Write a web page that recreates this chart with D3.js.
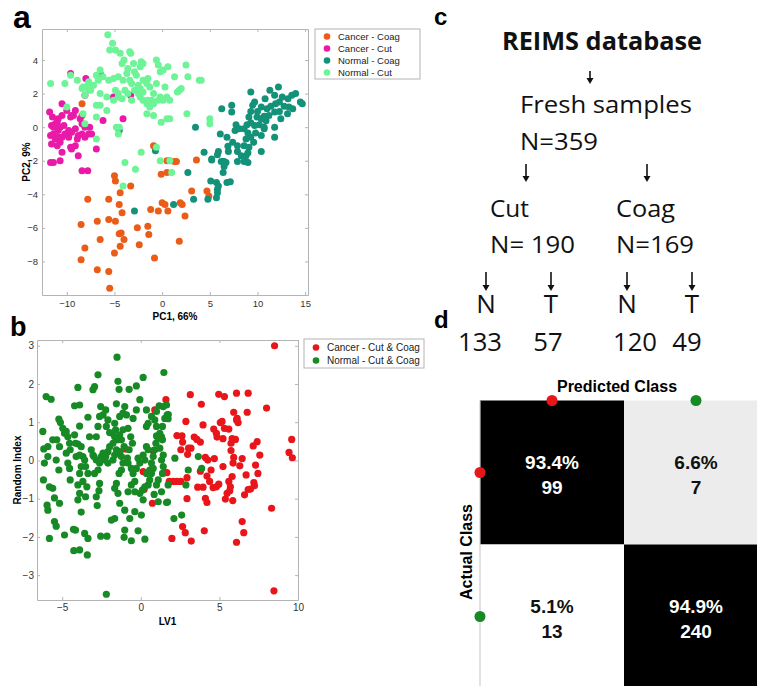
<!DOCTYPE html>
<html>
<head>
<meta charset="utf-8">
<title>REIMS classification</title>
<script src="https://d3js.org/d3.v7.min.js"></script>
<style>
  body { margin: 0; background: #fff; }
  svg { display: block; }
</style>
</head>
<body>
<svg width="757" height="686"></svg>
<script>

// ---- panel a: PCA scores (PC1, PC2) ----
var pcaLabels = ["Cancer - Coag", "Cancer - Cut", "Normal - Coag", "Normal - Cut"];
var pcaColors = ["#ea5c17", "#e91aa8", "#139279", "#6cf497"];
var pcaXTicks = [-10, -5, 0, 5, 10, 15];
var pcaYTicks = [-8, -6, -4, -2, 0, 2, 4];

var cancerCoag = [[-0.9,-1.1],[0.5,-2.0],[0.8,-2.0],[1.3,-2.05],[1.5,-2.05],[3.6,-1.95],[-0.1,-2.8],[0.5,-2.7],
  [-5.0,-2.9],[-4.9,-3.2],[-4.4,-3.9],[-3.3,-3.5],[-7.8,-4.3],[-5.6,-4.3],[-4.5,-4.6],[-4.2,-5.1],[-1.2,-4.9],
  [-0.4,-5.0],[0.6,-5.0],[0.0,-4.5],[0.3,-4.6],[1.9,-4.5],[2.1,-4.6],[2.4,-5.3],[3.1,-3.8],[4.7,-3.8],[4.9,-4.1],
  [-8.5,-5.8],[-6.8,-5.6],[-5.6,-5.5],[-4.9,-5.6],[-4.5,-6.35],[-4.3,-6.3],[-4.0,-6.7],[-4.4,-7.1],[-5.0,-7.5],
  [-6.5,-6.7],[-8.1,-7.2],[-8.5,-7.9],[-6.8,-8.5],[-5.6,-8.6],[-5.5,-9.6],[-2.6,-6.0],[-1.5,-5.9],[-1.4,-6.4],
  [-2.4,-7.0],[-0.8,-7.8],[1.8,-6.8],[-8.4,1.4],[-8.4,0.7]];

var cancerCut = [[-9.6,3.2],[-8.0,2.9],[-11.8,0.9],[-11.5,0.6],[-11.6,0.1],[-11.2,0.2],[-11.4,0.0],[-11.0,0.3],
  [-10.9,0.5],[-10.5,0.7],[-10.5,1.4],[-10.0,1.0],[-9.6,0.6],[-9.3,0.7],[-9.1,1.0],[-9.5,0.7],[-10.7,0.0],
  [-10.3,0.1],[-10.9,-0.2],[-11.4,-0.4],[-11.7,-0.5],[-11.6,-1.0],[-11.2,-0.7],[-10.9,-0.6],[-11.0,-1.1],
  [-10.7,-0.9],[-10.5,-0.6],[-10.2,-0.4],[-9.8,-0.2],[-9.5,-0.3],[-9.1,-0.1],[-8.8,-0.5],[-8.4,-0.4],[-9.8,-0.6],
  [-9.6,-1.2],[-9.5,-1.3],[-9.1,-1.1],[-8.8,-1.7],[-10.5,-1.5],[-10.7,-2.0],[-11.4,-2.1],[-11.7,-2.1],[-8.1,-0.6],
  [-7.7,-0.4],[-7.6,0.0],[-7.4,-0.4],[-8.1,0.0],[-8.4,0.2],[-8.6,0.5],[-8.9,-0.7],[-8.4,-2.6],[-7.8,-2.6],
  [-6.9,-1.3],[-6.2,0.4],[-4.1,0.5],[-5.1,1.8],[-3.3,1.9],[-8.1,1.9]];

var normalCoag = [[9.3,2.1],[11.3,2.2],[12.2,2.4],[11.8,1.9],[12.6,1.8],[13.2,1.7],[13.6,1.9],[14.0,2.0],[14.5,1.5],
  [14.7,1.4],[10.8,1.7],[9.7,1.5],[9.5,1.3],[10.4,1.2],[11.0,1.1],[11.4,1.25],[11.9,1.4],[12.3,1.5],[12.8,1.25],
  [13.3,1.2],[13.7,1.1],[11.8,0.9],[11.2,0.7],[10.7,0.65],[10.4,0.5],[9.95,0.6],[9.1,0.6],[9.3,0.26],[9.7,0.1],
  [10.2,0.14],[10.7,0.0],[11.8,0.0],[12.45,0.5],[13.15,0.8],[7.3,1.3],[7.3,0.9],[6.25,1.1],[3.5,0.0],[6.1,-0.4],
  [6.8,-0.6],[7.75,0.14],[7.65,-0.2],[8.1,-0.1],[8.6,-0.1],[8.9,0.14],[9.0,-0.34],[9.3,-0.6],[9.8,-0.34],
  [10.4,-0.5],[10.7,-0.1],[8.8,-0.7],[8.6,-1.1],[9.6,-0.9],[9.1,-1.2],[7.9,-1.1],[7.4,-0.9],[6.9,-1.13],
  [6.95,-1.45],[7.9,-1.45],[8.3,-1.7],[8.8,-1.7],[9.0,-1.53],[10.4,-1.45],[11.8,-0.6],[5.9,-1.45],[5.8,-1.65],
  [4.4,-1.5],[5.2,-1.9],[6.35,-2.05],[6.5,-2.05],[7.9,-2.05],[8.8,-2.05],[9.3,0.93],[10.0,0.93],[10.9,0.39],
  [12.3,0.93],[2.7,-2.7],[3.3,-4.3],[1.2,-4.6],[5.1,-3.2],[5.7,-3.3],[5.9,-3.5],[5.8,-3.7],[5.8,-3.9],[5.7,-4.2],
  [4.8,-4.3],[6.8,-3.3],[7.15,-3.25],[6.2,-2.05],[6.5,-2.35],[6.4,-2.7],[6.7,-2.1],[8.6,-2.05],[9.0,-2.1],
  [5.2,-1.95],[-2.9,-5.0],[-6.5,3.2],[-4.5,-0.2],[-0.7,-1.4]];

var normalCut = [[-5.7,5.5],[-5.2,5.0],[-4.9,4.6],[-5.5,4.6],[-4.4,4.4],[-3.4,4.5],[-3.3,4.4],[-4.0,4.0],[-4.2,3.8],
  [-3.6,3.5],[-3.0,3.8],[-2.3,3.6],[-2.2,3.9],[-2.0,3.8],[-2.9,3.3],[-2.7,3.1],[-3.7,3.2],[-3.4,2.8],[-4.1,2.8],
  [-4.6,3.0],[-5.1,2.9],[-5.6,2.8],[-6.2,3.0],[-6.5,3.4],[-6.9,3.1],[-6.7,2.8],[-7.2,2.5],[-7.7,2.7],[-8.3,2.4],
  [-8.4,2.3],[-8.1,1.9],[-7.7,2.2],[-8.9,2.8],[-10.2,2.6],[-11.7,2.6],[-9.6,3.1],[-6.5,2.0],[-5.8,1.8],[-4.9,2.2],
  [-4.6,2.0],[-3.9,2.2],[-3.6,2.0],[-3.2,1.6],[-2.9,2.2],[-2.5,2.0],[-2.3,1.8],[-2.0,1.6],[-1.6,1.4],[-1.3,1.2],
  [-1.1,1.6],[-0.9,2.0],[-1.3,2.4],[-1.6,2.6],[-2.0,2.8],[-1.5,2.9],[-0.6,4.0],[-0.4,3.7],[-0.2,3.3],[0.1,3.4],
  [0.6,3.6],[-0.6,2.6],[0.3,2.4],[-0.2,1.8],[-0.4,1.6],[0.1,1.6],[0.5,1.8],[0.8,1.6],[1.8,2.2],[2.0,2.3],[1.3,3.0],
  [2.5,3.7],[2.7,3.0],[3.9,2.8],[4.1,2.8],[0.5,0.5],[0.8,0.5],[-0.1,0.3],[-5.8,1.0],[-6.9,0.6],[-8.1,0.2],
  [-8.3,0.8],[-4.8,0.0],[-4.6,-0.4],[-6.9,-0.7],[-0.6,-1.2],[-0.2,-2.0],[0.8,-2.0],[1.0,-2.7],[-2.2,-1.5],
  [-3.9,-2.1],[-2.8,-2.5],[-4.1,-3.5],[5.0,0.5],[5.0,0.2],[-10.0,1.2],[-7.8,2.5],[-7.5,2.2],[-6.9,1.3],[-6.5,1.3],
  [-5.1,1.6],[-4.6,1.8],[-4.2,1.7],[-2.5,2.5],[-2.3,2.3],[-1.5,1.6],[-0.9,1.4],[-1.6,0.8],[-0.9,0.7],[-2.0,2.1],
  [-3.2,2.6],[2.6,0.8],[1.6,2.1],[-4.5,0.0]];

var pcaGroups = [cancerCoag, cancerCut, normalCoag, normalCut];

// ---- panel b: LV1 vs random index ----
var ldaLabels = ["Cancer - Cut & Coag", "Normal - Cut & Coag"];
var ldaColors = ["#e8161b", "#178a25"];
var ldaXTicks = [-5, 0, 5, 10];
var ldaYTicks = [-3, -2, -1, 0, 1, 2, 3];

var cancerAll = [[8.51,3.0],[3.15,1.72],[4.96,1.73],[5.32,1.67],[6.09,1.76],[6.83,1.76],[3.85,1.47],[8.0,1.37],
  [5.91,1.26],[6.77,1.26],[2.87,1.02],[3.96,0.93],[4.64,0.82],[5.06,0.99],[5.17,1.02],[5.32,0.84],[5.6,0.82],
  [6.13,1.1],[6.19,0.99],[6.09,1.06],[2.3,0.65],[2.62,0.64],[2.66,0.48],[3.4,0.61],[3.57,0.55],[3.79,0.48],
  [4.81,0.71],[4.85,0.61],[5.23,0.57],[5.81,0.57],[6.02,0.55],[5.74,0.45],[7.4,0.49],[7.15,0.38],[9.6,0.55],
  [2.55,0.28],[3.04,0.32],[3.19,0.32],[2.98,0.16],[5.74,0.26],[7.57,0.14],[5.91,0.08],[6.45,0.05],[9.43,0.21],
  [9.64,0.07],[4.11,0.08],[4.26,0.01],[4.68,0.05],[5.87,-0.07],[6.3,-0.14],[7.3,-0.12],[5.23,-0.16],[4.47,-0.25],
  [3.79,-0.28],[4.21,-0.41],[4.38,-0.55],[4.81,-0.69],[4.96,-0.62],[5.81,-0.42],[5.6,-0.55],[5.7,-0.69],
  [5.66,-0.79],[5.49,-0.86],[5.38,-1.01],[5.85,-1.05],[6.7,-0.38],[7.45,-0.34],[7.19,-0.58],[7.23,-0.66],
  [6.98,-0.75],[6.83,-0.76],[6.6,-0.9],[2.94,-0.45],[2.55,-0.55],[2.3,-0.55],[3.62,-0.7],[3.96,-0.7],[4.6,-0.71],
  [2.94,-1.0],[4.11,-0.99],[4.21,-1.1],[8.32,-1.25],[6.45,-1.6],[6.55,-1.89],[6.09,-2.14],[4.04,-1.84],
  [2.66,-1.73],[2.83,-1.89],[3.21,-2.11],[1.98,-2.04],[8.47,-3.41],[0.89,1.32],[1.6,1.59],[0.79,0.25],
  [0.15,-0.29],[0.7,-0.23],[1.55,-0.32],[1.66,-0.32],[0.21,-0.76],[0.74,-1.12],[-1.0,0.3],[1.81,-0.55],[2.06,-0.55]];

var normalAll = [[-6.23,0.76],[-6.02,1.67],[-5.7,1.6],[-6.17,0.3],[-5.91,0.36],[-6.13,-0.07],[-6.19,-0.51],
  [-5.91,0.1],[-5.6,0.54],[-5.34,0.54],[-5.21,1.08],[-5.11,0.99],[-5.17,0.36],[-5.38,0.01],[-5.21,-0.25],
  [-5.81,-0.69],[-5.6,-0.73],[-5.49,-0.98],[-5.96,-1.17],[-5.91,-1.3],[-5.81,-2.04],[-5.49,-1.6],[-5.38,-1.72],
  [-5.17,-1.12],[-4.85,-1.95],[-4.96,0.84],[-4.74,0.76],[-4.85,0.71],[-4.64,0.62],[-4.53,0.45],[-4.49,0.28],
  [-4.74,0.19],[-4.64,-0.07],[-4.53,-0.21],[-4.49,-0.51],[-4.11,0.1],[-3.89,0.14],[-4.15,0.45],[-4.21,0.67],
  [-4.0,0.43],[-3.79,0.36],[-3.68,0.1],[-3.57,0.01],[-3.79,-0.16],[-3.89,-0.34],[-4.0,-0.64],[-3.89,-0.86],
  [-4.0,-1.03],[-3.79,-1.35],[-4.28,-1.8],[-4.15,-1.82],[-4.26,-2.36],[-3.89,-2.34],[-3.4,-2.47],[-3.57,-1.91],
  [-3.36,-2.04],[-3.51,-0.95],[-3.43,-0.69],[-3.68,-0.55],[-3.36,-0.34],[-3.51,-0.16],[-4.21,1.43],[-3.89,1.45],
  [-4.0,1.91],[-3.89,0.9],[-3.36,1.13],[-3.04,1.85],[-2.94,1.93],[-2.72,2.24],[-3.26,0.62],[-3.15,0.28],
  [-3.04,0.14],[-2.83,0.01],[-2.62,-0.07],[-2.72,-0.25],[-2.94,-0.34],[-2.62,-0.6],[-2.66,-0.79],[-2.83,-0.95],
  [-2.77,-1.18],[-2.55,-1.98],[-2.15,-1.98],[-2.19,-3.5],[-2.98,0.1],[-2.83,0.62],[-2.72,0.89],[-2.62,1.15],
  [-2.55,1.41],[-2.4,1.19],[-2.23,1.32],[-2.09,1.06],[-2.19,0.89],[-1.98,0.73],[-1.81,0.71],[-1.66,0.62],
  [-1.77,0.45],[-1.98,0.36],[-2.09,0.23],[-2.23,0.1],[-2.4,0.19],[-2.51,0.1],[-2.3,0.01],[-2.09,-0.07],
  [-1.77,0.01],[-1.66,0.14],[-1.55,0.28],[-1.45,0.54],[-1.34,0.67],[-1.6,0.8],[-1.66,0.97],[-1.55,1.48],
  [-1.45,2.07],[-1.51,2.7],[-1.38,1.86],[-1.34,1.15],[-1.13,1.24],[-0.91,1.19],[-1.02,1.41],[-0.81,0.84],
  [-1.13,0.8],[-1.23,0.54],[-1.06,0.36],[-1.34,0.23],[-1.23,0.1],[-1.13,-0.07],[-1.23,-0.25],[-1.38,-0.34],
  [-1.55,-0.6],[-1.66,-0.73],[-1.45,-0.86],[-1.34,-1.12],[-1.66,-1.52],[-1.87,-1.56],[-1.02,-1.3],[-0.7,-1.52],
  [-1.02,-1.82],[-1.06,-2.01],[-0.6,-2.1],[-0.17,-1.84],[0.26,-2.06],[-0.38,-1.34],[0.04,-1.43],[-0.74,1.86],
  [-0.28,1.95],[0.15,2.17],[-0.06,1.59],[-0.28,1.32],[-0.49,1.1],[-0.64,0.62],[-0.53,0.45],[-0.74,0.28],
  [-0.85,0.06],[-0.81,-0.07],[-0.6,-0.21],[-0.49,-0.34],[-0.38,-0.55],[-0.6,-0.64],[-0.81,-0.82],[-0.38,-0.82],
  [-0.06,-0.86],[0.11,-0.77],[0.26,-0.69],[0.15,-1.03],[0.47,-0.64],[0.57,-0.51],[0.68,-0.34],[0.79,-0.21],
  [0.68,-0.07],[0.79,0.1],[0.89,0.28],[0.96,0.45],[1.11,0.58],[1.21,0.71],[1.0,0.89],[0.89,1.06],[1.0,1.28],
  [1.17,1.43],[1.43,1.41],[1.68,1.19],[1.53,1.1],[1.38,0.89],[1.32,0.62],[1.38,0.54],[1.21,0.32],[1.43,0.14],
  [1.32,0.01],[1.43,-0.16],[1.38,-0.34],[1.11,-0.51],[1.0,-0.64],[1.74,-0.64],[1.32,-0.82],[1.11,-1.08],
  [1.64,-1.1],[0.47,0.28],[0.36,0.36],[0.15,0.14],[0.26,0.01],[-0.17,0.06],[-0.06,-0.07],[-0.28,-0.21],
  [0.36,0.89],[0.47,0.97],[0.36,-0.34],[0.57,-0.25],[0.85,-0.89],[2.11,-1.52],[2.6,-1.43],[2.17,0.06],
  [3.02,-0.25],[2.87,-0.64],[3.66,0.1],[3.87,-0.21],[1.47,2.3],[1.64,1.45],[1.74,1.09],[1.0,0.64],[0.68,1.15],
  [0.36,1.32],[1.75,1.2],[1.7,-1.09]];

var ldaGroups = [cancerAll, normalAll];

// ---- panel c: sample counts ----
var methods = ["Cut", "Coag"];
var normalCounts = [133, 120];
var tumourCounts = [57, 49];

// ---- panel d: confusion matrix (rows actual, cols predicted) ----
var classes = ["Cancer", "Normal"];
var confCounts = [[99, 7], [13, 240]];

var svg = d3.select("svg");
var tickFont = "'Liberation Sans', Arial, sans-serif";
var calFont = "'Open Sans', sans-serif";

function scatterPanel(opt) {
  var x = d3.scaleLinear().domain(opt.xDomain).range(opt.xRange),
      y = d3.scaleLinear().domain(opt.yDomain).range(opt.yRange);
  var g = svg.append("g");
  var x0 = opt.xRange[0], x1 = opt.xRange[1], y0 = opt.yRange[1], y1 = opt.yRange[0];
  var fmt = d3.format("d");

  g.append("rect").attr("x", x0).attr("y", y0).attr("width", x1 - x0).attr("height", y1 - y0)
      .attr("fill", "#fff");

  var axes = [
    [d3.axisBottom(x).tickValues(opt.xTicks).tickFormat(fmt).tickPadding(opt.padX), "translate(0," + y1 + ")"],
    [d3.axisTop(x).tickValues(opt.xTicks).tickFormat(""), "translate(0," + y0 + ")"],
    [d3.axisLeft(y).tickValues(opt.yTicks).tickFormat(fmt).tickPadding(opt.padY), "translate(" + x0 + ",0)"],
    [d3.axisRight(y).tickValues(opt.yTicks).tickFormat(""), "translate(" + x1 + ",0)"]
  ];
  axes.forEach(function(a) {
    var ax = g.append("g").attr("transform", a[1])
        .call(a[0].tickSizeInner(-3).tickSizeOuter(0));
    ax.select(".domain").attr("stroke", "#b4b4b4");
    ax.selectAll(".tick line").attr("stroke", "#b4b4b4");
    ax.selectAll("text").attr("fill", "#333").style("font", opt.tickSize + "px " + tickFont);
  });

  opt.groups.forEach(function(pts, i) {
    g.append("g").selectAll("circle")
        .data(pts)
      .enter().append("circle")
        .attr("cx", function(d) { return x(d[0]); })
        .attr("cy", function(d) { return y(d[1]); })
        .attr("r", opt.r)
        .attr("fill", opt.colors[i]);
  });

  // legend
  var lg = g.append("g");
  lg.append("rect").attr("x", opt.legend.x).attr("y", opt.legend.y)
      .attr("width", opt.legend.w).attr("height", opt.legend.h)
      .attr("fill", "#fff").attr("stroke", "#b4b4b4");
  opt.labels.forEach(function(l, i) {
    var ly = opt.legend.y + opt.legend.first + i * opt.legend.step;
    lg.append("circle").attr("cx", opt.legend.x + 12).attr("cy", ly).attr("r", 3.3)
        .attr("fill", opt.colors[i]);
    lg.append("text").attr("x", opt.legend.x + 23).attr("y", ly).attr("dy", "0.35em")
        .attr("fill", "#222").style("font", opt.legend.font + "px " + tickFont).text(l);
  });

  g.append("text").attr("x", (x0 + x1) / 2).attr("y", opt.xLabelY)
      .attr("text-anchor", "middle").attr("font-weight", "bold")
      .style("font-family", tickFont).style("font-size", "10px").text(opt.xLabel);
  g.append("text")
      .attr("transform", "translate(" + opt.yLabelX + "," + (y0 + y1) / 2 + ") rotate(-90)")
      .attr("text-anchor", "middle").attr("font-weight", "bold")
      .style("font-family", tickFont).style("font-size", "10px").text(opt.yLabel);
}

scatterPanel({
  xDomain: [-12.6, 15.3], xRange: [42, 308],
  yDomain: [-10, 5.85], yRange: [295, 29],
  xTicks: pcaXTicks, yTicks: pcaYTicks, padX: 5, padY: 4, tickSize: 9.5,
  groups: pcaGroups, colors: pcaColors, labels: pcaLabels, r: 3.5,
  legend: {x: 315, y: 29, w: 105, h: 50, first: 7.5, step: 12, font: 9.5},
  xLabel: "PC1, 66%", xLabelY: 320, yLabel: "PC2, 9%", yLabelX: 30
});

scatterPanel({
  xDomain: [-6.6, 10], xRange: [37, 298],
  yDomain: [-3.65, 3.15], yRange: [600, 340],
  xTicks: ldaXTicks, yTicks: ldaYTicks, padX: 4, padY: 3, tickSize: 10,
  groups: ldaGroups, colors: ldaColors, labels: ldaLabels, r: 3.6,
  legend: {x: 304, y: 339, w: 120, h: 29, first: 8.5, step: 13, font: 10},
  xLabel: "LV1", xLabelY: 625, yLabel: "Random Index", yLabelX: 21
});

// panel letters
[["a", 13, 28, 32], ["b", 10, 336, 27], ["c", 434, 25, 24], ["d", 434, 328, 24]].forEach(function(p) {
  svg.append("text").attr("x", p[1]).attr("y", p[2]).attr("font-weight", "bold")
      .style("font-family", tickFont).style("font-size", p[3] + "px").text(p[0]);
});

// ---- panel c flow ----
var cutTotal = normalCounts[0] + tumourCounts[0],
    coagTotal = normalCounts[1] + tumourCounts[1];
var flow = [
  {t: "REIMS database", x: 502, y: 50, w: 200, s: 25, b: true},
  {t: "Fresh samples", x: 520, y: 113, w: 172, s: 23},
  {t: "N=" + (cutTotal + coagTotal), x: 520, y: 150, w: 78, s: 23},
  {t: methods[0], x: 490, y: 217, w: 39, s: 23},
  {t: methods[1], x: 616, y: 217, w: 59, s: 23},
  {t: "N= " + cutTotal, x: 490, y: 253, w: 85, s: 23},
  {t: "N=" + coagTotal, x: 616, y: 253, w: 78, s: 23}
];
var leafX = [486, 551, 627, 692];
var leafNum = [normalCounts[0], tumourCounts[0], normalCounts[1], tumourCounts[1]];
var numX = [480, 548, 635, 687];

var fc = svg.append("g").attr("fill", "#111").style("font-family", calFont);
flow.forEach(function(f) {
  fc.append("text").attr("x", f.x).attr("y", f.y)
      .attr("textLength", f.w).attr("lengthAdjust", "spacingAndGlyphs")
      .attr("font-weight", f.b ? "bold" : "normal")
      .style("font-size", f.s + "px").text(f.t);
});
leafX.forEach(function(lx, i) {
  fc.append("text").attr("x", lx).attr("y", 313).attr("text-anchor", "middle")
      .style("font-size", "26px").text(i % 2 ? "T" : "N");
  fc.append("text").attr("x", numX[i]).attr("y", 351).attr("text-anchor", "middle")
      .attr("textLength", String(leafNum[i]).length * 14.7).attr("lengthAdjust", "spacingAndGlyphs")
      .style("font-size", "26px").text(leafNum[i]);
});

function arrow(x, ya, yb) {
  fc.append("line").attr("x1", x).attr("x2", x).attr("y1", ya).attr("y2", yb - 4)
      .attr("stroke", "#111").attr("stroke-width", 1.6);
  fc.append("path").attr("d", "M" + (x - 3.5) + "," + (yb - 6) + "L" + (x + 3.5) + "," + (yb - 6) + "L" + x + "," + yb + "Z");
}
arrow(590, 71, 84);
[526, 647].forEach(function(x) { arrow(x, 164, 182); });
leafX.forEach(function(x) { arrow(x, 272, 291); });

// ---- panel d confusion matrix ----
var cx = d3.scaleBand().domain(classes).range([480, 768]),
    cy = d3.scaleBand().domain(classes).range([400.5, 688.5]);
var cells = [];
confCounts.forEach(function(row, i) {
  var tot = d3.sum(row);
  row.forEach(function(v, j) {
    cells.push({a: classes[i], p: classes[j], n: v, pct: (100 * v / tot).toFixed(1) + "%"});
  });
});
var cellFill = function(d) {
  if (d.a === d.p) return "#000";
  return d.a === classes[0] ? "#ececec" : "#fff";
};
var cm = svg.append("g");
cm.selectAll("rect").data(cells).enter().append("rect")
    .attr("x", function(d) { return cx(d.p); })
    .attr("y", function(d) { return cy(d.a); })
    .attr("width", cx.bandwidth()).attr("height", cy.bandwidth())
    .attr("fill", cellFill);
cm.append("line").attr("x1", 480).attr("x2", 480).attr("y1", 400.5).attr("y2", 686)
    .attr("stroke", "#cfcfcf").attr("stroke-width", 1.2);

cells.forEach(function(d) {
  var mx = cx(d.p) + cx.bandwidth() / 2, my = cy(d.a) + cy.bandwidth() / 2;
  var col = d.a === d.p ? "#fff" : "#111";
  cm.append("text").attr("x", mx).attr("y", my - 4).attr("text-anchor", "middle")
      .attr("fill", col).attr("font-weight", "bold").style("font-family", tickFont)
      .style("font-size", "19px").text(d.pct);
  cm.append("text").attr("x", mx).attr("y", my + 21).attr("text-anchor", "middle")
      .attr("fill", col).attr("font-weight", "bold").style("font-family", tickFont)
      .style("font-size", "19px").text(d.n);
});

classes.forEach(function(c, i) {
  cm.append("circle").attr("cx", cx(c) + cx.bandwidth() / 2).attr("cy", 400.5).attr("r", 5.5)
      .attr("fill", ldaColors[i]);
  cm.append("circle").attr("cx", 480).attr("cy", cy(c) + cy.bandwidth() / 2).attr("r", 5.5)
      .attr("fill", ldaColors[i]);
});

cm.append("text").attr("x", 617).attr("y", 392).attr("text-anchor", "middle")
    .attr("font-weight", "bold").style("font-family", tickFont).style("font-size", "16px")
    .text("Predicted Class");
cm.append("text").attr("transform", "translate(472,552) rotate(-90)").attr("text-anchor", "middle")
    .attr("font-weight", "bold").style("font-family", tickFont).style("font-size", "16px")
    .text("Actual Class");

</script>
</body>
</html>
